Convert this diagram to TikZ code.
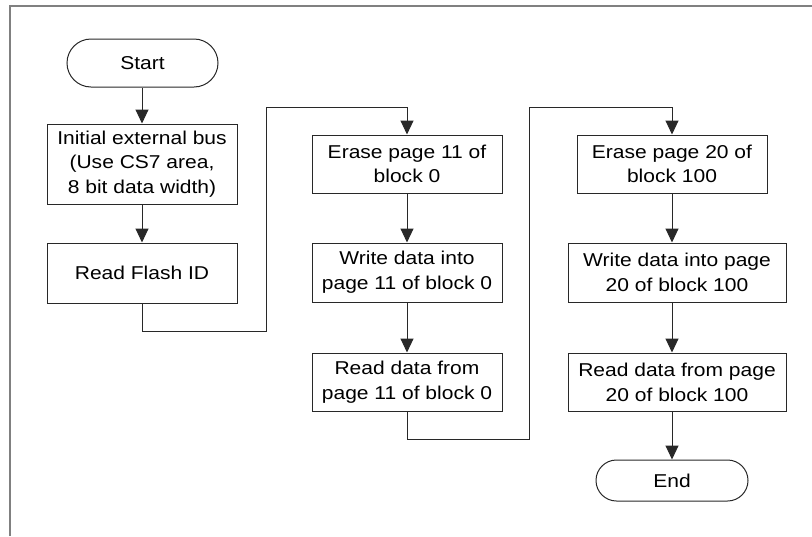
\documentclass[tikz,border=0pt]{standalone}
\usepackage{fontspec}
\setmainfont{Liberation Sans}[FakeStretch=1.13]
\usetikzlibrary{arrows.meta}
\definecolor{framegray}{RGB}{128,128,128}
\definecolor{linegray}{RGB}{40,40,40}
\begin{document}
\begin{tikzpicture}[x=1pt,y=-1pt,
  box/.style={draw=linegray, line width=1pt, rectangle, inner sep=0pt, align=center,
    font=\fontsize{18.6}{24.7}\selectfont},
  term/.style={box, rounded corners=#1},
  arr/.style={draw=linegray, line width=1pt, -{Triangle[length=14pt,width=13pt]}},
  conn/.style={draw=linegray, line width=1pt},
  frame/.style={draw=framegray, line width=1.8pt}]
\useasboundingbox (0,0) rectangle (812,536);
\draw[frame] (10,536) -- (10,6) -- (812,6);

\node[term=24pt, minimum width=151pt, minimum height=48pt] (start) at (142.5,63) {Start};
\node[box, minimum width=190pt, minimum height=80pt] (init) at (142,164) {Initial external bus\\(Use CS7 area,\\8 bit data width)};
\node[box, minimum width=190pt, minimum height=60pt] (readid) at (142,273) {Read Flash ID};

\node[box, minimum width=190pt, minimum height=58pt] (erase11) at (407,164) {Erase page 11 of\\block 0};
\node[box, minimum width=190pt, minimum height=59pt] (write11) at (407,272.5) {Write data into\\page 11 of block 0};
\node[box, minimum width=190pt, minimum height=58pt] (read11) at (407,382) {Read data from\\page 11 of block 0};

\node[box, minimum width=190pt, minimum height=58pt] (erase20) at (672,164) {Erase page 20 of\\block 100};
\node[box, minimum width=218pt, minimum height=59pt] (write20) at (677,272.5) {Write data into page\\20 of block 100};
\node[box, minimum width=218pt, minimum height=58pt] (read20) at (677,382) {Read data from page\\20 of block 100};
\node[term=20.5pt, minimum width=152pt, minimum height=41pt] (end) at (672,480.5) {End};

\coordinate (j1) at (266,331);
\coordinate (j2) at (266,107);
\coordinate (j3) at (529,439);
\coordinate (j4) at (529,107);

\draw[arr] (start.south -| init.north) -- (init.north);
\draw[arr] (init.south) -- (readid.north);
\draw[arr] (readid.south) |- (j1) -- (j2) -| (erase11.north);
\draw[arr] (erase11.south) -- (write11.north);
\draw[arr] (write11.south) -- (read11.north);
\draw[arr] (read11.south) |- (j3) -- (j4) -| (erase20.north);
\draw[arr] (erase20.south) -- (erase20.south |- write20.north);
\draw[arr] (erase20.south |- write20.south) -- (erase20.south |- read20.north);
\draw[arr] (end.north |- read20.south) -- (end.north);
\end{tikzpicture}
\end{document}
